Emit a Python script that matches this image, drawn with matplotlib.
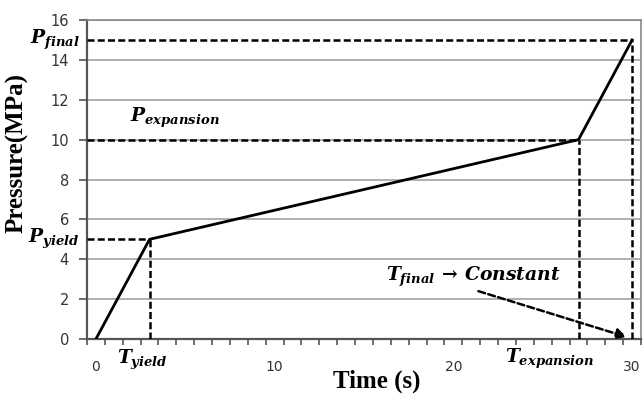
import matplotlib
matplotlib.use('Agg')
import matplotlib.pyplot as plt
import numpy as np

# loading path: time (s) vs pressure (MPa)
time_pts = [0, 3, 27, 30]
pressure_pts = [0, 5, 10, 15]

t_yield, t_expansion, t_final = 3, 27, 30
p_yield, p_expansion, p_final = 5, 10, 15

y_ticks = [0, 2, 4, 6, 8, 10, 12, 14, 16]
x_ticks = [0, 10, 20, 30]

plt.rcParams['mathtext.fontset'] = 'custom'
plt.rcParams['mathtext.it'] = 'DejaVu Serif:italic:bold'
plt.rcParams['mathtext.rm'] = 'DejaVu Serif:bold'

fig = plt.figure(figsize=(6.43, 3.94), dpi=100)
ax = fig.add_axes([0.1353, 0.1396, 0.8617, 0.8096])

x_lo, x_hi = -0.5, 30.33
ax.set_xlim(x_lo, x_hi)
ax.set_ylim(0, 16)

ax.set_yticks(y_ticks)
ax.yaxis.grid(True, color='#9a9a9a', lw=1.1)
ax.set_axisbelow(True)

ax.set_xticks(x_ticks)
ax.set_xticks(np.arange(-0.5, 30.6, 1.0), minor=True)
ax.tick_params(axis='x', which='major', length=0, pad=15, labelsize=10, labelcolor='#333333')
ax.tick_params(axis='x', which='minor', length=4, width=1.2, color='#555555', direction='out')
ax.tick_params(axis='y', length=6, width=1.2, color='#555555', pad=7, labelsize=10.5, labelcolor='#333333')

for s in ['left', 'bottom']:
    ax.spines[s].set_color('#555555')
    ax.spines[s].set_linewidth(1.6)
for s in ['top', 'right']:
    ax.spines[s].set_color('#8a8a8a')
    ax.spines[s].set_linewidth(1.2)

dash = dict(color='black', lw=1.8, ls=(0, (2.8, 1.3)), zorder=3)
ax.plot([x_lo, t_final], [p_final, p_final], **dash)
ax.plot([t_final, t_final], [0, p_final], **dash)
ax.plot([x_lo, t_expansion], [p_expansion, p_expansion], **dash)
ax.plot([t_expansion, t_expansion], [0, p_expansion], **dash)
ax.plot([x_lo, t_yield], [p_yield, p_yield], **dash)
ax.plot([t_yield, t_yield], [0, p_yield], **dash)

ax.plot(time_pts, pressure_pts, color='black', lw=2, zorder=4)

lbl = dict(fontsize=13.5, color='black', clip_on=False)
ax.text(-0.9, p_final, r'$P_{final}$', ha='right', va='center', **lbl)
ax.text(-0.9, p_yield, r'$P_{yield}$', ha='right', va='center', **lbl)
ax.text(1.9, 11.1, r'$P_{expansion}$', ha='left', va='center', **lbl)
ax.text(2.6, -1.05, r'$T_{yield}$', ha='center', va='center', **lbl)
ax.text(25.4, -1.0, r'$T_{expansion}$', ha='center', va='center', **lbl)
ax.text(21.1, 3.1, r'$T_{final}\,\rightarrow\,Constant$', ha='center', va='center', **lbl)

ax.annotate('', xy=(29.7, 0.1), xytext=(21.4, 2.4),
            arrowprops=dict(arrowstyle='-|>,head_length=0.6,head_width=0.3',
                            color='black', lw=1.8, ls=(0, (2.8, 1.3)),
                            shrinkA=0, shrinkB=0), zorder=5)

ax.set_xlabel('Time (s)', family='Liberation Serif', fontweight='bold', fontsize=18)
ax.xaxis.label.set_va('center')
ax.xaxis.set_label_coords(0.523, -0.132)
ax.set_ylabel('Pressure(MPa)', family='Liberation Serif', fontweight='bold', fontsize=18)
ax.yaxis.label.set_va('center')
ax.yaxis.set_label_coords(-0.126, 0.583)

fig.savefig('out.png', dpi=100)
